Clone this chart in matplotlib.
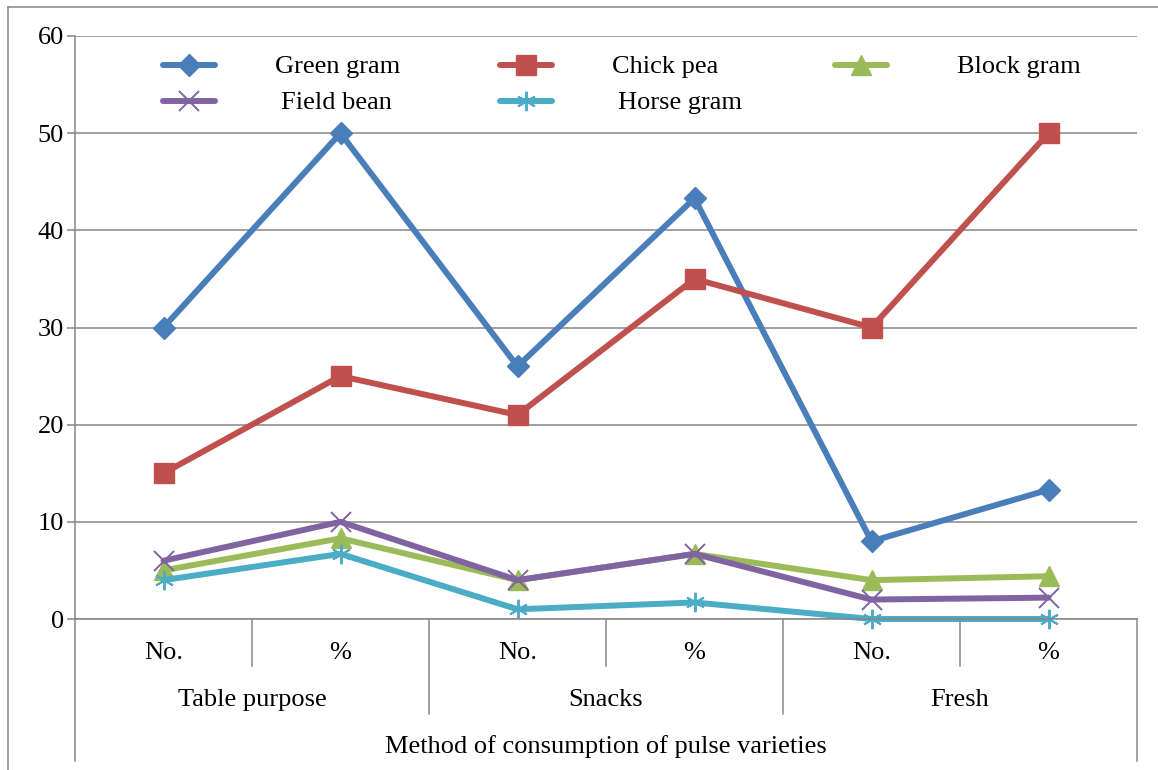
import numpy as np
import matplotlib
matplotlib.use("Agg")
import matplotlib.pyplot as plt
from matplotlib.lines import Line2D
import matplotlib.transforms as mtransforms

plt.rcParams['font.family'] = ['Liberation Serif', 'DejaVu Serif']

# data
measures = ["No.", "%", "No.", "%", "No.", "%"]
purposes = ["Table purpose", "Snacks", "Fresh"]
axis_title = "Method of consumption of pulse varieties"

green_gram = [30, 50, 26, 43.3, 8, 13.3]
chick_pea = [15, 25, 21, 35, 30, 50]
block_gram = [5, 8.3, 4, 6.7, 4, 4.4]
field_bean = [6, 10, 4, 6.7, 2, 2.2]
horse_gram = [4, 6.7, 1, 1.7, 0, 0]

series = [
    ("Green gram", green_gram, "#4A7EBB", dict(marker="D", ms=11)),
    ("Chick pea", chick_pea, "#C0504D", dict(marker="s", ms=14.5)),
    ("Block gram", block_gram, "#9BBB59", dict(marker="^", ms=14)),
    ("Field bean", field_bean, "#8064A2", dict(marker="x", ms=14, mew=1.4)),
    ("Horse gram", horse_gram, "#4BACC6", dict(marker=(6, 2, 0), ms=14, mew=1.4)),
]

W, H = 1158, 770
FS = 19
fig = plt.figure(figsize=(W / 100, H / 100), dpi=100)
L, R, T, B = 75, 1137, 36, 619
ax = fig.add_axes([L / W, 1 - B / H, (R - L) / W, (B - T) / H])

grid_col = "#868686"
x = np.arange(len(measures))
for name, vals, col, mk in series:
    ax.plot(x, vals, color=col, lw=4.3, solid_joinstyle="round",
            solid_capstyle="round", mfc=col, mec=col, label=name,
            clip_on=False, **mk)

ax.set_xlim(-0.5, len(measures) - 0.5)
ax.set_ylim(0, 60)
ax.set_yticks(np.arange(0, 61, 10))
ax.yaxis.grid(True, color=grid_col, lw=1.1)
ax.set_axisbelow(True)
ax.set_xticks([])
for s in ["top", "right"]:
    ax.spines[s].set_visible(False)
ax.spines["left"].set_color(grid_col)
ax.spines["bottom"].set_color(grid_col)
ax.spines["left"].set_linewidth(1.1)
ax.spines["bottom"].set_linewidth(1.1)
ax.tick_params(axis="y", colors=grid_col, length=6, width=1.1, labelsize=FS,
               labelcolor="black", pad=2)

# multi-level category axis
ah = B - T
trans = mtransforms.blended_transform_factory(ax.transData, ax.transAxes)

def below(px):
    return -px / ah

def sep(xpos, depth):
    ax.add_line(Line2D([xpos, xpos], [0, below(depth)], transform=trans,
                       color=grid_col, lw=1.1, clip_on=False))

for i, m in enumerate(measures):
    ax.text(i, below(34), m, transform=trans, ha="center", va="center", fontsize=FS)
for i in range(len(measures) - 1):
    if i % 2 == 0:
        sep(i + 0.5, 47)
    else:
        sep(i + 0.5, 95)
for j, p in enumerate(purposes):
    ax.text(2 * j + 0.5, below(81), p, transform=trans, ha="center", va="center", fontsize=FS)
sep(-0.5, 142)
sep(len(measures) - 0.5, 142)
ax.text(0.5, below(128), axis_title, transform=ax.transAxes, ha="center", va="center",
        fontsize=FS)

# legend, laid out in three columns
leg_pos = [(163, 65, 275), (500, 65, 612), (835, 65, 957), (163, 101, 281), (500, 101, 618)]
for (hx, hy, tx), (name, vals, col, mk) in zip(leg_pos, series):
    fy = 1 - hy / H
    fig.add_artist(Line2D([hx / W, (hx + 52) / W], [fy, fy], color=col, lw=4.3,
                          solid_capstyle="round"))
    fig.add_artist(Line2D([(hx + 26) / W], [fy], color=col, mfc=col, mec=col, **mk))
    fig.text(tx / W, fy - 2 / H, name, ha="left", va="center", fontsize=FS)

# chart frame
fig.add_artist(Line2D([8 / W, 8 / W], [0, 1 - 7 / H], color=grid_col, lw=1.1))
fig.add_artist(Line2D([8 / W, 1], [1 - 7 / H, 1 - 7 / H], color=grid_col, lw=1.1))

fig.savefig("out.png", dpi=100)
